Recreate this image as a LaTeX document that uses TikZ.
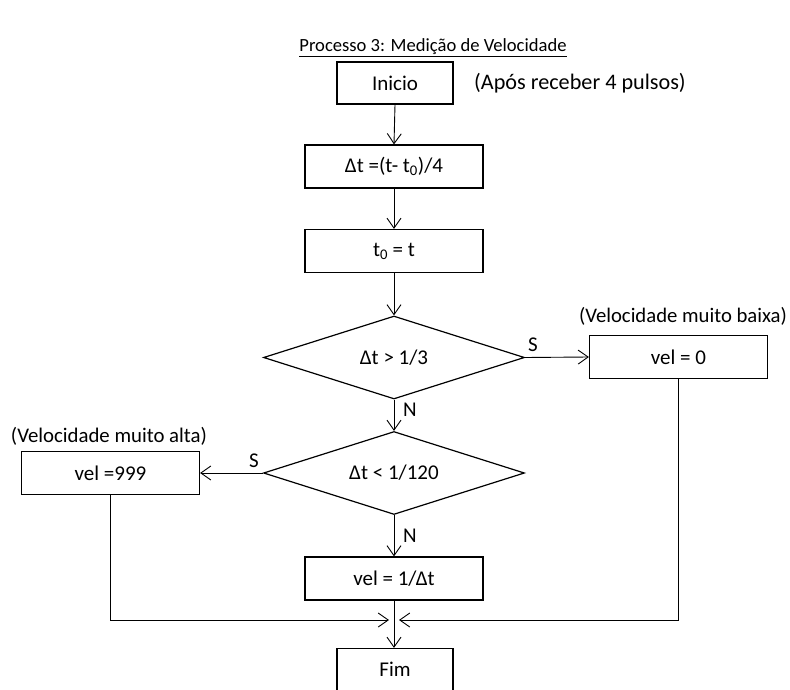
\documentclass[tikz,border=0pt]{standalone}
\usepackage{fontspec}
\setmainfont{Carlito}
\usetikzlibrary{arrows.meta,shapes.geometric}
\begin{document}
\begin{tikzpicture}[x=1pt,y=-1pt,
  every node/.style={font=\fontsize{21}{25}\selectfont, inner sep=0pt},
  box/.style={draw, line width=1.2pt, minimum width=178pt, minimum height=43pt},
  sbox/.style={draw, line width=1.2pt, minimum width=116pt, minimum height=42pt},
  dec/.style={draw, line width=1.2pt, diamond, aspect=3.14, minimum width=261pt, minimum height=83pt, inner sep=0pt},
  arr/.style={line width=0.9pt, -{Straight Barb[length=10pt,width=14pt,line width=0.9pt]}},
  ln/.style={line width=0.9pt}]
\useasboundingbox (0,0) rectangle (790,690);
\node[font=\fontsize{18.6}{22}\selectfont] (title) at (433,48) {\underline{Processo 3: Medição de Velocidade}};
\node[sbox] (ini) at (395,83) {Inicio};
\node[anchor=west, font=\fontsize{22.2}{26}\selectfont] (nota) at (474,83) {(Após receber 4 pulsos)};
\node[box] (dt) at (394,166.5) {Δt =(t- t\textsubscript{0})/4};
\node[box] (t0) at (394,251) {t\textsubscript{0} = t};
\node[dec] (d1) at (394,357.5) {Δt > 1/3};
\node[box] (v0) at (678.5,357) {vel = 0};
\node[font=\fontsize{20.7}{24}\selectfont] (baixa) at (683,316) {(Velocidade muito baixa)};
\node[dec] (d2) at (394,473) {Δt < 1/120};
\node[box] (v999) at (110.5,473) {vel =999};
\node[font=\fontsize{20.8}{24}\selectfont] (alta) at (109,436) {(Velocidade muito alta)};
\node[box] (v1) at (394,578.5) {vel = 1/Δt};
\node[sbox] (fim) at (395,669.5) {Fim};
\node (s1) at (533,345) {S};
\node (n1) at (410,410) {N};
\node (s2) at (254,461) {S};
\node (n2) at (410,536) {N};
\coordinate (j) at (394,620);
\draw[arr] (ini.south) -- (dt.north);
\draw[arr] (dt.south) -- (t0.north);
\draw[arr] (t0.south) -- (d1.north);
\draw[arr] (d1.east) -- (v0.west);
\draw[arr] (d1.south) -- (d2.north);
\draw[arr] (d2.west) -- (v999.east);
\draw[arr] (d2.south) -- (v1.north);
\draw[arr] (v1.south) -- (fim.north -| v1.south);
\draw[arr] (v999.south) |- ([xshift=-5pt]j);
\draw[arr] (v0.south) |- ([xshift=5pt]j);
\end{tikzpicture}
\end{document}
